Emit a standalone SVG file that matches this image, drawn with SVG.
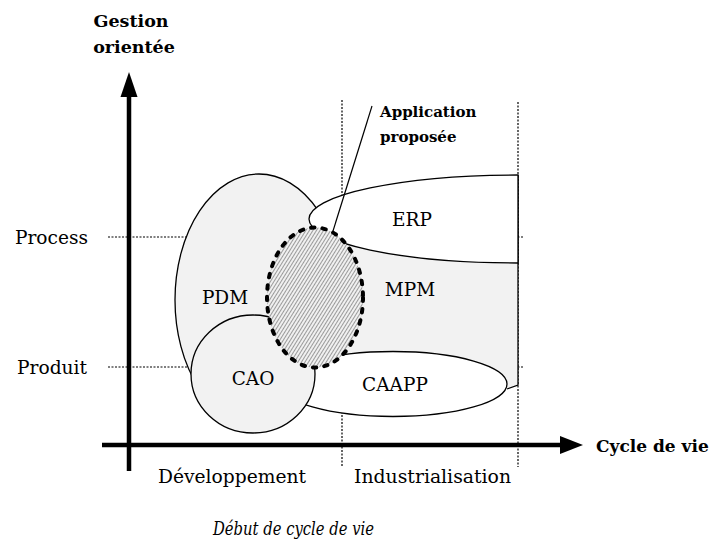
<svg xmlns="http://www.w3.org/2000/svg" width="719" height="544" viewBox="0 0 719 544">
<style>
.t{font-family:"DejaVu Serif","Liberation Serif",serif;font-size:18.5px;fill:#000}
.b{font-family:"DejaVu Serif","Liberation Serif",serif;font-weight:bold;fill:#000}
.i{font-family:"DejaVu Serif","Liberation Serif",serif;font-style:italic;font-size:18.5px;fill:#000}
.dot{stroke:#000;stroke-width:1.2;stroke-dasharray:2 1.5;fill:none}
.sh{stroke:#000;stroke-width:1.3}
</style>
<defs>
<pattern id="hatch" width="3" height="3" patternUnits="userSpaceOnUse" patternTransform="rotate(-58)">
<rect width="3" height="3" fill="#f0f0f0"/>
<line x1="0" y1="0.5" x2="3" y2="0.5" stroke="#9a9a9a" stroke-width="1"/>
</pattern>
</defs>
<rect width="719" height="544" fill="#fff"/>
<g id="guides">
<line class="dot" x1="108" y1="237" x2="524" y2="237"/>
<line class="dot" x1="108" y1="367" x2="524" y2="367"/>
<line class="dot" x1="342" y1="100" x2="342" y2="466"/>
<line class="dot" x1="518" y1="102" x2="518" y2="467"/>
</g>
<g id="pdm">
<ellipse class="sh" cx="259" cy="300" rx="84" ry="126" fill="#f2f2f2"/>
<text class="t" x="225" y="304" text-anchor="middle">PDM</text>
</g>
<g id="mpm">
<path d="M330 230 L518 175 L518 385 L507 389 L330 390 Z" fill="#f2f2f2"/>
<path class="sh" d="M518 175 L518 385 L507 389" fill="none"/>
<text class="t" x="410" y="296" text-anchor="middle">MPM</text>
</g>
<g id="erp">
<path class="sh" d="M518 175 A209 44 0 0 0 518 263 Z" fill="#fff"/>
<text class="t" x="412" y="226" text-anchor="middle">ERP</text>
</g>
<g id="caapp">
<ellipse class="sh" cx="393" cy="384" rx="114" ry="32.5" fill="#fff"/>
<text class="t" x="395" y="391" text-anchor="middle">CAAPP</text>
</g>
<g id="cao">
<ellipse class="sh" cx="253" cy="374" rx="62" ry="59" fill="#f2f2f2"/>
<text class="t" x="253" y="385" text-anchor="middle">CAO</text>
</g>
<g id="application">
<ellipse cx="315" cy="297.5" rx="48" ry="70" fill="url(#hatch)" stroke="#000" stroke-width="4" stroke-dasharray="3.5 8" stroke-linecap="round"/>
</g>
<g id="connectors">
<line x1="333" y1="231" x2="372" y2="106" stroke="#000" stroke-width="1.2"/>
<line x1="129" y1="94" x2="129" y2="471" stroke="#000" stroke-width="4.5"/>
<polygon points="129,72 120.5,97 137.5,97" fill="#000"/>
<line x1="102" y1="445" x2="564" y2="445" stroke="#000" stroke-width="4.5"/>
<polygon points="583,445 560,436 560,454" fill="#000"/>
</g>
<g id="labels">
<text class="b" x="131" y="27" font-size="17.5" text-anchor="middle">Gestion</text>
<text class="b" x="134" y="53" font-size="17.5" text-anchor="middle">orientée</text>
<text class="b" x="596" y="452" font-size="17">Cycle de vie</text>
<text class="b" x="380" y="117" font-size="15">Application</text>
<text class="b" x="380" y="142" font-size="15">proposée</text>
<text class="t" x="15" y="244" textLength="73" lengthAdjust="spacingAndGlyphs">Process</text>
<text class="t" x="17" y="374" textLength="70" lengthAdjust="spacingAndGlyphs">Produit</text>
<text class="t" x="158" y="483" textLength="148" lengthAdjust="spacingAndGlyphs">Développement</text>
<text class="t" x="354" y="483" textLength="157" lengthAdjust="spacingAndGlyphs">Industrialisation</text>
<text class="i" x="213" y="535" textLength="161" lengthAdjust="spacingAndGlyphs">Début de cycle de vie</text>
</g>
</svg>
